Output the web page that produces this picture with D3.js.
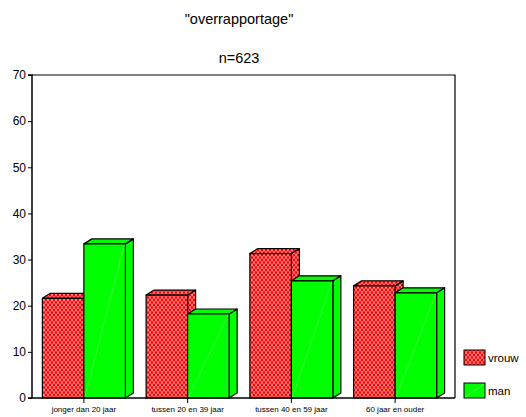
<!DOCTYPE html>
<html>
<head>
<meta charset="utf-8">
<script src="https://cdn.jsdelivr.net/npm/d3@7"></script>
<style>
  html, body { margin: 0; padding: 0; background: #fff; }
  svg { display: block; font-family: "Liberation Sans", Arial, sans-serif; }
</style>
</head>
<body>
<svg id="chart" width="526" height="417"></svg>
<script>
// Age groups and percentages per sex
const categories = ["jonger dan 20 jaar", "tussen 20 en 39 jaar", "tussen 40 en 59 jaar", "60 jaar en ouder"];
const series = ["vrouw", "man"];
const vrouw = [21.6, 22.3, 31.3, 24.3];
const man = [33.4, 18.2, 25.4, 22.8];
const yTicks = [0, 10, 20, 30, 40, 50, 60, 70];
const title = "\"overrapportage\"";
const subtitle = "n=623";

const svg = d3.select("#chart");
const plot = { left: 32, top: 75, right: 455, bottom: 398 };
const depthX = 8, depthY = 5;

// Patterns: red lattice for vrouw
const defs = svg.append("defs");
const pat = defs.append("pattern")
  .attr("id", "lattice").attr("patternUnits", "userSpaceOnUse")
  .attr("width", 4).attr("height", 5);
pat.append("rect").attr("width", 4).attr("height", 5).attr("fill", "#ff0000");
pat.append("path")
  .attr("d", "M0,0 L2,2.5 L0,5 M4,0 L2,2.5 L4,5")
  .attr("fill", "none").attr("stroke", "#ffffff").attr("stroke-width", 0.55);

const fills = { vrouw: "url(#lattice)", man: "#00ff00" };

const x = d3.scaleBand().domain(categories).range([plot.left, 447]).paddingInner(0.2).paddingOuter(0.1);
const xs = d3.scaleBand().domain(series).range([0, x.bandwidth()]);
const y = d3.scaleLinear().domain([0, 70]).range([plot.bottom, plot.top]);

// Titles
svg.append("text").attr("x", 239).attr("y", 24).attr("text-anchor", "middle")
  .attr("font-size", 14.5).text(title);
svg.append("text").attr("x", 239).attr("y", 63).attr("text-anchor", "middle")
  .attr("font-size", 14.5).text(subtitle);

// Frame (top and right)
svg.append("path")
  .attr("d", `M${plot.left},${plot.top} H${plot.right} V${plot.bottom}`)
  .attr("fill", "none").attr("stroke", "#000").attr("stroke-width", 1.2);

// Bars with a 3D extrusion
const data = categories.map((c, i) => ({ cat: c, values: [{ s: "vrouw", v: vrouw[i] }, { s: "man", v: man[i] }] }));
const bars = svg.append("g");
data.forEach(d => {
  d.values.forEach(b => {
    const x0 = x(d.cat) + xs(b.s), w = xs.bandwidth();
    const yt = y(b.v), yb = y(0);
    const g = bars.append("g").attr("stroke", "#000").attr("stroke-width", 1.2).attr("stroke-linejoin", "round");
    // side face
    g.append("path").attr("fill", fills[b.s])
      .attr("d", `M${x0 + w},${yb} L${x0 + w + depthX},${yb - depthY} L${x0 + w + depthX},${yt - depthY} L${x0 + w},${yt} Z`);
    // top face
    g.append("path").attr("fill", fills[b.s])
      .attr("d", `M${x0},${yt} L${x0 + depthX},${yt - depthY} L${x0 + w + depthX},${yt - depthY} L${x0 + w},${yt} Z`);
    // front face
    g.append("rect").attr("x", x0).attr("y", yt).attr("width", w).attr("height", yb - yt).attr("fill", fills[b.s]);
    if (b.s === "man") {
      g.append("line").attr("x1", x0 + 1).attr("y1", yb - 1).attr("x2", x0 + w - 1).attr("y2", yt + 1)
        .attr("stroke", "#8cff8c").attr("stroke-width", 0.6).attr("opacity", 0.7);
    }
  });
});

// Y axis
const yAxis = svg.append("g").attr("transform", `translate(${plot.left},0)`)
  .call(d3.axisLeft(y).tickValues(yTicks).tickSize(4).tickPadding(2));
yAxis.select(".domain").attr("stroke-width", 1.5).attr("d", `M-4,${plot.top}H0V${plot.bottom}`);
yAxis.selectAll(".tick line").attr("stroke-width", 1);
yAxis.selectAll("text").attr("font-size", 12).attr("font-family", "Liberation Sans, Arial, sans-serif").attr("fill", "#000");

// X axis at the category centres
const xAxis = svg.append("g").attr("transform", `translate(0,${plot.bottom})`)
  .call(d3.axisBottom(x).tickSize(5).tickPadding(3));
xAxis.select(".domain").attr("stroke-width", 1.5).attr("d", `M${plot.left - 4},0H${plot.right}`);
xAxis.selectAll("text").attr("font-size", 8).attr("font-family", "Liberation Sans, Arial, sans-serif").attr("fill", "#000");

// Legend
const legend = svg.append("g");
series.forEach((s, i) => {
  const ly = 350 + i * 33;
  legend.append("rect").attr("x", 464).attr("y", ly).attr("width", 21).attr("height", 15)
    .attr("fill", fills[s]).attr("stroke", "#000").attr("stroke-width", 1);
  if (s === "man") {
    legend.append("line").attr("x1", 465).attr("y1", ly + 14).attr("x2", 484).attr("y2", ly + 1)
      .attr("stroke", "#8cff8c").attr("stroke-width", 0.6);
  }
  legend.append("text").attr("x", 488).attr("y", ly + 12).attr("font-size", 11.5).text(s);
});
</script>
</body>
</html>
